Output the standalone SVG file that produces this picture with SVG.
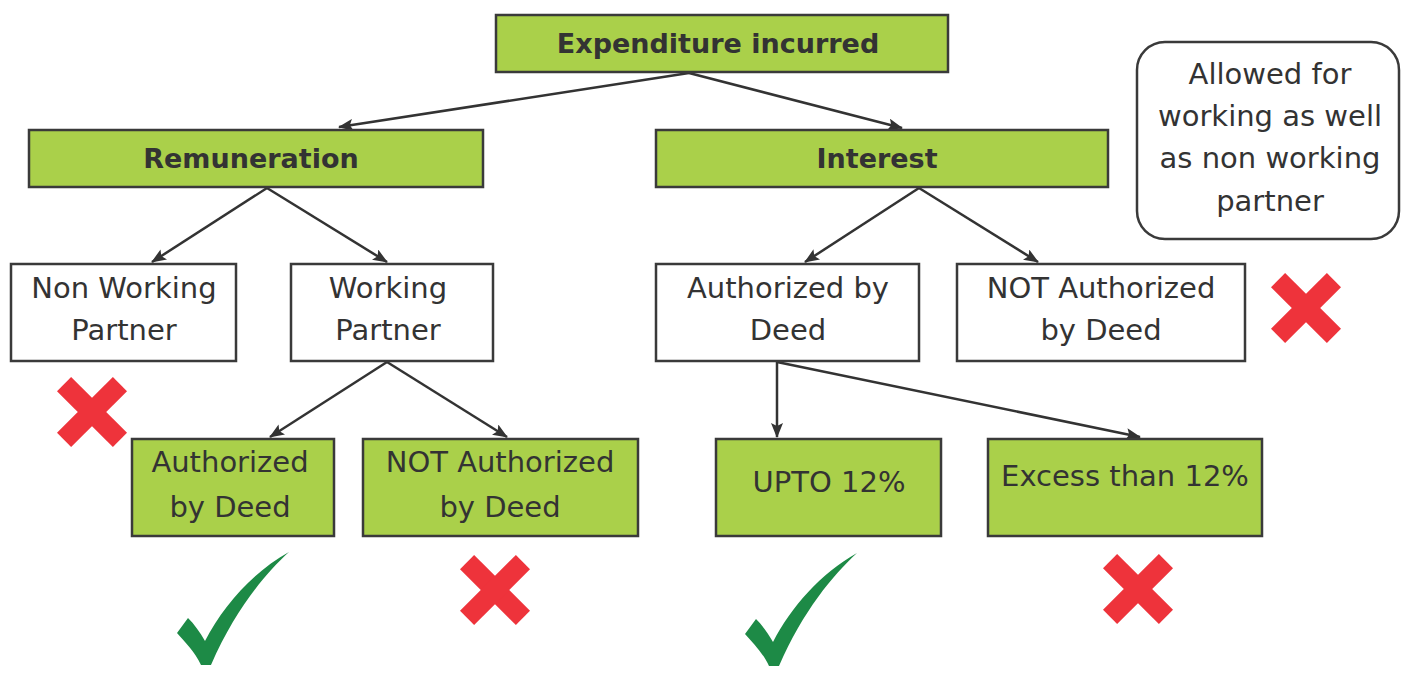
<svg xmlns="http://www.w3.org/2000/svg" width="1403" height="676" viewBox="0 0 1403 676">
<style>
.g{fill:#aad04a;stroke:#3a3a3a;stroke-width:2.5}
.w{fill:#fff;stroke:#3a3a3a;stroke-width:2.5}
.t{font-family:"Comic Sans MS","DejaVu Sans",sans-serif;font-size:29px;fill:#333;text-anchor:middle}
.b{font-weight:bold;font-size:27px}
.c line{stroke:#333;stroke-width:2.5;marker-end:url(#ah)}
.x{fill:#ee333b}
.k{fill:#1d8a46}
</style>
<defs>
<marker id="ah" viewBox="0 0 15 12" refX="14" refY="6" markerWidth="15" markerHeight="12" markerUnits="userSpaceOnUse" orient="auto">
<path d="M0,0 L15,6 L0,12 L3,6 Z" fill="#333"/>
</marker>
<g id="cross"><rect x="-39.5" y="-10" width="79" height="20" transform="rotate(45)"/><rect x="-39.5" y="-10" width="79" height="20" transform="rotate(-45)"/></g>
<path id="check" d="M112,0 C88,22 58,58 34,113 L24,113 C18,100 8,90 0,81 L11,66 C17,72 23,80 28,89 C46,54 76,20 112,0 Z"/>
</defs>
<g class="c" id="connectors">
<line x1="689" y1="73" x2="339" y2="127"/>
<line x1="689" y1="73" x2="902" y2="128"/>
<line x1="267" y1="188" x2="152" y2="262"/>
<line x1="267" y1="188" x2="387" y2="262"/>
<line x1="919" y1="188" x2="805" y2="262"/>
<line x1="919" y1="188" x2="1038" y2="262"/>
<line x1="387" y1="362" x2="270" y2="437"/>
<line x1="387" y1="362" x2="507" y2="437"/>
<line x1="777" y1="362" x2="777" y2="437"/>
<line x1="777" y1="362" x2="1140" y2="437"/>
</g>
<g id="expenditure"><rect class="g" x="496" y="15" width="452" height="57"/><text class="t b" x="718" y="53">Expenditure incurred</text></g>
<g id="remuneration"><rect class="g" x="29" y="130" width="454" height="57"/><text class="t b" x="251" y="168">Remuneration</text></g>
<g id="interest"><rect class="g" x="656" y="130" width="452" height="57"/><text class="t b" x="877" y="168">Interest</text></g>
<g id="nonworking"><rect class="w" x="11" y="264" width="225" height="97"/><text class="t" x="124" y="298">Non Working</text><text class="t" x="124" y="340">Partner</text></g>
<g id="working"><rect class="w" x="291" y="264" width="202" height="97"/><text class="t" x="388" y="298">Working</text><text class="t" x="388" y="340">Partner</text></g>
<g id="int-auth"><rect class="w" x="656" y="264" width="263" height="97"/><text class="t" x="788" y="298">Authorized by</text><text class="t" x="788" y="340">Deed</text></g>
<g id="int-notauth"><rect class="w" x="957" y="264" width="288" height="97"/><text class="t" x="1101" y="298">NOT Authorized</text><text class="t" x="1101" y="340">by Deed</text></g>
<g id="rem-auth"><rect class="g" x="132" y="439" width="202" height="97"/><text class="t" x="230" y="472">Authorized</text><text class="t" x="230" y="517">by Deed</text></g>
<g id="rem-notauth"><rect class="g" x="363" y="439" width="275" height="97"/><text class="t" x="500" y="472">NOT Authorized</text><text class="t" x="500" y="517">by Deed</text></g>
<g id="upto"><rect class="g" x="716" y="439" width="225" height="97"/><text class="t" x="829" y="492">UPTO 12%</text></g>
<g id="excess"><rect class="g" x="988" y="439" width="274" height="97"/><text class="t" x="1125" y="486">Excess than 12%</text></g>
<g id="note"><rect class="w" x="1137" y="42" width="262" height="197" rx="28"/><text class="t" x="1270" y="84">Allowed for</text><text class="t" x="1270" y="126">working as well</text><text class="t" x="1270" y="168">as non working</text><text class="t" x="1270" y="211">partner</text></g>
<g id="marks">
<use href="#cross" class="x" x="92" y="412"/>
<use href="#cross" class="x" x="1306" y="308"/>
<use href="#cross" class="x" x="495" y="590"/>
<use href="#cross" class="x" x="1138" y="589"/>
<use href="#check" class="k" x="177" y="552"/>
<use href="#check" class="k" x="745" y="553"/>
</g>
</svg>
